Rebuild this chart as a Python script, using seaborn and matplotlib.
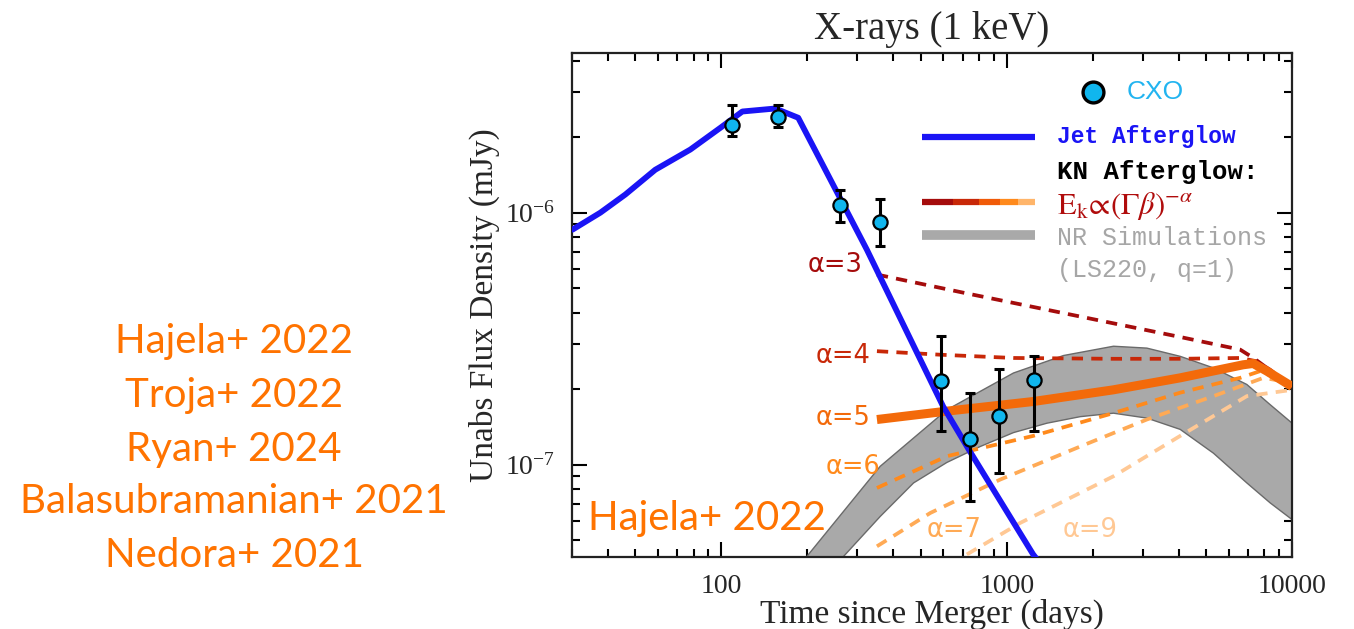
import numpy as np
import pandas as pd
import matplotlib
matplotlib.use("Agg")
import matplotlib.pyplot as plt
import seaborn as sns
from matplotlib.ticker import LogLocator, NullFormatter, FixedLocator, FixedFormatter

# ---------------- data ----------------
cxo_t = [109, 158, 261, 361, 588, 746, 942, 1248]
cxo_f = [2.22e-6, 2.40e-6, 1.076e-6, 0.92e-6, 2.14e-7, 1.26e-7, 1.56e-7, 2.16e-7]
cxo_hi = [2.67e-6, 2.68e-6, 1.23e-6, 1.13e-6, 3.23e-7, 1.93e-7, 2.40e-7, 2.71e-7]
cxo_lo = [2.01e-6, 2.19e-6, 0.92e-6, 0.74e-6, 1.36e-7, 7.2e-8, 9.3e-8, 1.355e-7]

jet_t = [30.1, 37.7, 46.1, 58.7, 77.9, 99.2, 118.5, 154.6, 186, 222, 323.6, 599, 746, 1238, 1364]
jet_f = [8.56e-7, 1.0e-6, 1.18e-6, 1.48e-6, 1.78e-6, 2.17e-6, 2.52e-6, 2.59e-6, 2.38e-6,
         1.62e-6, 7.13e-7, 1.70e-7, 1.12e-7, 4.4e-8, 3.83e-8]

a3_t = [351, 725, 1809, 4053, 6575, 7318, 8155, 10000]
a3_f = [5.68e-7, 4.78e-7, 3.87e-7, 3.21e-7, 2.86e-7, 2.65e-7, 2.42e-7, 2.04e-7]

a4_t = [351, 585, 1056, 2366, 4053, 6575, 7520, 8375, 10000]
a4_f = [2.82e-7, 2.73e-7, 2.65e-7, 2.63e-7, 2.63e-7, 2.65e-7, 2.57e-7, 2.38e-7, 2.04e-7]

a5_t = [351, 617, 1238, 2360, 4053, 6736, 7302, 8155, 10000]
a5_f = [1.51e-7, 1.63e-7, 1.78e-7, 1.98e-7, 2.21e-7, 2.49e-7, 2.52e-7, 2.35e-7, 2.04e-7]

a6_t = [351, 617, 1238, 2360, 4053, 6575, 7726, 10000]
a6_f = [8.08e-8, 1.08e-7, 1.30e-7, 1.60e-7, 1.93e-7, 2.21e-7, 2.35e-7, 2.08e-7]

a7_t = [351, 540, 948, 1809, 3097, 5302, 7934, 10000]
a7_f = [4.74e-8, 6.43e-8, 8.72e-8, 1.18e-7, 1.51e-7, 1.87e-7, 2.21e-7, 2.11e-7]

a9_t = [725, 1115, 2366, 4053, 6939, 10000]
a9_f = [4.4e-8, 5.87e-8, 8.99e-8, 1.30e-7, 1.87e-7, 1.98e-7]

nr_up_t = [149.6, 202, 360.5, 617, 1056, 1581, 2366, 3097, 4053, 5302, 6939, 8375, 10000]
nr_up_f = [2.91e-8, 4.4e-8, 9.85e-8, 1.65e-7, 2.31e-7, 2.71e-7, 2.95e-7, 2.90e-7, 2.69e-7,
           2.42e-7, 2.08e-7, 1.73e-7, 1.46e-7]
nr_lo_t = [196.8, 272, 360.5, 471.7, 617, 807.6, 1056, 1383, 1809, 2366, 3097, 4053, 5302,
           6939, 8375, 10000]
nr_lo_f = [2.91e-8, 4.4e-8, 6.23e-8, 8.46e-8, 1.02e-7, 1.18e-7, 1.34e-7, 1.46e-7, 1.55e-7,
           1.60e-7, 1.53e-7, 1.38e-7, 1.11e-7, 8.46e-8, 7.05e-8, 6.05e-8]

x_ticks = [100, 1000, 10000]
x_tick_labels = ["100", "1000", "10000"]

refs = ["Hajela+ 2022", "Troja+ 2022", "Ryan+ 2024", "Balasubramanian+ 2021", "Nedora+ 2021"]

# ---------------- style ----------------
sns.set_theme(style="ticks")
plt.rcParams["font.family"] = ["Liberation Serif", "DejaVu Serif"]
plt.rcParams["mathtext.fontset"] = "stix"

BLUE = "#1a14f5"
CXO_FILL = "#10b6ee"
ORANGE_TXT = "#ff7300"

fig = plt.figure(figsize=(13.54, 6.29), dpi=100)
ax = fig.add_axes([0.4225, 0.1145, 0.5318, 0.8012])
ax.set_xscale("log")
ax.set_yscale("log")

# NR simulation band
band_x = np.concatenate([nr_up_t, nr_lo_t[::-1]])
band_y = np.concatenate([nr_up_f, nr_lo_f[::-1]])
ax.fill(band_x, band_y, facecolor="#a9a9a9", edgecolor="#6a6a6a", linewidth=1.0, zorder=1)

# KN curves
def kn(tt, ff, color, lw, dashed=True):
    sns.lineplot(x=tt, y=ff, ax=ax, color=color, lw=lw, estimator=None, sort=False, zorder=3)
    ln = ax.lines[-1]
    ln.set_solid_capstyle("butt")
    if dashed:
        ln.set_dashes((3.0, 2.2))
        ln.set_dash_capstyle("butt")

kn(a9_t, a9_f, "#ffc894", 2.7)
kn(a7_t, a7_f, "#ffaa55", 2.7)
kn(a6_t, a6_f, "#ff8a1c", 2.7)
kn(a4_t, a4_f, "#c82808", 2.7)
kn(a3_t, a3_f, "#a50c0c", 2.7)
kn(a5_t, a5_f, "#f36a0a", 6.5, dashed=False)

# jet afterglow
sns.lineplot(x=jet_t, y=jet_f, ax=ax, color=BLUE, lw=4.2, estimator=None, sort=False, zorder=4)

# CXO data
yerr = [np.array(cxo_f) - np.array(cxo_lo), np.array(cxo_hi) - np.array(cxo_f)]
ax.errorbar(cxo_t, cxo_f, yerr=yerr, fmt="none", ecolor="black", elinewidth=2.2,
            capsize=3.5, capthick=2.2, zorder=5)
sns.scatterplot(x=cxo_t, y=cxo_f, ax=ax, s=105, color=CXO_FILL, edgecolor="black",
                linewidth=1.6, zorder=6)

# axes limits / ticks
ax.set_xlim(30, 10000)
ax.set_ylim(4.3e-8, 4.3e-6)
ax.xaxis.set_major_locator(FixedLocator(x_ticks))
ax.xaxis.set_major_formatter(FixedFormatter(x_tick_labels))
ax.xaxis.set_minor_locator(LogLocator(base=10, subs=np.arange(2, 10)))
ax.xaxis.set_minor_formatter(NullFormatter())
ax.yaxis.set_minor_locator(LogLocator(base=10, subs=np.arange(2, 10)))
ax.yaxis.set_minor_formatter(NullFormatter())
ax.tick_params(which="both", direction="in", top=True, right=True, color="black",
               width=1.5)
ax.tick_params(which="major", length=11, labelsize=20, pad=12)
ax.tick_params(which="minor", length=6)
for s in ax.spines.values():
    s.set_color("#222222")
    s.set_linewidth(1.6)

ax.set_title("X-rays (1 keV)", fontsize=28, pad=10)
ax.set_xlabel("Time since Merger (days)", fontsize=24, labelpad=0)
ax.set_ylabel("Unabs Flux Density (mJy)", fontsize=24, labelpad=4)

# alpha labels
lab_kw = dict(fontsize=18.5, family="DejaVu Sans", ha="center", va="center", zorder=7)
ax.text(0.366, 0.580, "α=3", color="#a50c0c", transform=ax.transAxes, **lab_kw)
ax.text(0.377, 0.399, "α=4", color="#c82808", transform=ax.transAxes, **lab_kw)
ax.text(0.377, 0.276, "α=5", color="#f36a0a", transform=ax.transAxes, **lab_kw)
ax.text(0.390, 0.178, "α=6", color="#ff8a1c", transform=ax.transAxes, **lab_kw)
ax.text(0.530, 0.053, "α=7", color="#ffaa55", transform=ax.transAxes, **lab_kw)
ax.text(0.720, 0.053, "α=9", color="#ffc894", transform=ax.transAxes, **lab_kw)

# legend (drawn manually)
tr = ax.transAxes
ax.plot([0.724], [0.922], marker="o", ms=15, mfc=CXO_FILL, mec="black", mew=2.4,
        transform=tr, zorder=8)
ax.text(0.7704, 0.922, "CXO", color="#22b4f0", fontsize=19, family="Liberation Sans",
        va="center", ha="left", transform=tr)
ax.plot([0.4857, 0.6431], [0.834, 0.834], color=BLUE, lw=4.5, transform=tr,
        solid_capstyle="butt")
leg_kw = dict(family="Liberation Mono", fontweight="bold", va="center",
              ha="left", transform=tr)
ax.text(0.6736, 0.834, "Jet Afterglow", color=BLUE, fontsize=16.5, **leg_kw)
ax.text(0.6736, 0.7645, "KN Afterglow:", color="black", fontsize=18.5, **leg_kw)
seg_x = [0.4857, 0.5296, 0.5657, 0.5944, 0.6199, 0.6431]
seg_c = ["#a50c0c", "#c82808", "#f05a08", "#ff8a1c", "#ffb56a"]
for i, c in enumerate(seg_c):
    ax.plot([seg_x[i], seg_x[i + 1]], [0.704, 0.704], color=c, lw=4.5, transform=tr,
            solid_capstyle="butt")
ax.text(0.6736, 0.697, r"$\mathrm{E_k}\!\propto\!(\Gamma\beta)^{-\alpha}$", color="#b00c0c",
        fontsize=22, va="center", ha="left", transform=tr)
ax.plot([0.4857, 0.6431], [0.639, 0.639], color="#a9a9a9", lw=7, transform=tr,
        solid_capstyle="butt")
nr_kw = dict(fontsize=18, family="Liberation Mono", va="center", ha="left", transform=tr,
             color="#a6a6a6")
ax.text(0.6736, 0.6323, "NR Simulations", **nr_kw)
ax.text(0.6736, 0.5694, "(LS220, q=1)", **nr_kw)

# orange reference annotations
ax.text(0.187, 0.076, "Hajela+ 2022", color=ORANGE_TXT, fontsize=29, family="Lato",
        ha="center", va="center", transform=tr, zorder=9)
ys = [0.457, 0.372, 0.286, 0.202, 0.117]
for r, yy in zip(refs, ys):
    fig.text(0.173, yy, r, color=ORANGE_TXT, fontsize=29, family="Lato",
             ha="center", va="center")

fig.savefig("out.png", dpi=100)
